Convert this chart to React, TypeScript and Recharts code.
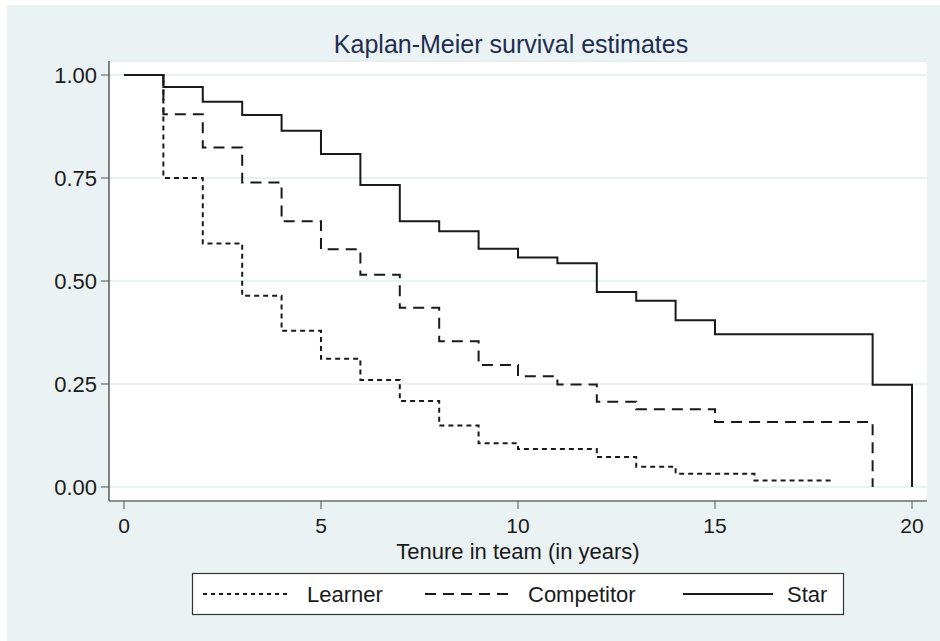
import React from 'react';
import { LineChart, Line, XAxis, YAxis, CartesianGrid } from 'recharts';

// Kaplan-Meier step estimates
const learnerT = [0, 1, 2, 3, 4, 5, 6, 7, 8, 9, 10, 12, 13, 14, 16, 18];
const learnerS = [1, 0.75, 0.591, 0.464, 0.379, 0.311, 0.26, 0.209, 0.149, 0.106, 0.092, 0.073, 0.049, 0.032, 0.016, 0.016];

const competitorT = [0, 1, 2, 3, 4, 5, 6, 7, 8, 9, 10, 11, 12, 13, 15, 19];
const competitorS = [1, 0.905, 0.824, 0.739, 0.645, 0.577, 0.515, 0.435, 0.354, 0.296, 0.269, 0.249, 0.207, 0.189, 0.158, 0];

const starT = [0, 1, 2, 3, 4, 5, 6, 7, 8, 9, 10, 11, 12, 13, 14, 15, 19, 20];
const starS = [1, 0.971, 0.935, 0.903, 0.865, 0.808, 0.733, 0.645, 0.621, 0.578, 0.557, 0.543, 0.473, 0.452, 0.405, 0.371, 0.248, 0];

const xTicks = [0, 5, 10, 15, 20];
const yTicks = [0, 0.25, 0.5, 0.75, 1];

const toRows = (t: number[], s: number[]) => t.map((v, i) => ({ t: v, s: s[i] }));

const FONT = '"Liberation Sans", Arial, sans-serif';
const BG = '#EAF2F3';
const INK = '#1a1a1a';

export default function App() {
  const learner = toRows(learnerT, learnerS);
  const competitor = toRows(competitorT, competitorS);
  const star = toRows(starT, starS);

  return (
    <div style={{ position: 'absolute', left: 0, top: 0, width: 940, height: 641, background: '#fff', fontFamily: FONT }}>
      <div style={{ position: 'absolute', left: 7, top: 5, width: 933, height: 636, background: BG }} />
      <div style={{ position: 'absolute', left: 0, top: 0 }}>
        <LineChart width={940} height={641} margin={{ top: 61, right: 13, bottom: 106, left: 29 }}>
          <CartesianGrid vertical={false} stroke="#E3ECEE" strokeWidth={1.5} fill="#fff" />
          <XAxis
            type="number"
            dataKey="t"
            domain={[-0.38, 20.38]}
            ticks={xTicks}
            allowDataOverflow
            height={34}
            tickSize={8}
            tickMargin={9}
            axisLine={{ stroke: '#333', strokeWidth: 1.2 }}
            tickLine={{ stroke: '#555' }}
            tick={{ fill: INK, fontSize: 21, fontFamily: FONT }}
            label={{ value: 'Tenure in team (in years)', position: 'bottom', offset: 8, fill: INK, fontSize: 22, fontFamily: FONT }}
          />
          <YAxis
            type="number"
            domain={[-0.034, 1.034]}
            ticks={yTicks}
            allowDataOverflow
            width={80}
            tickSize={8}
            tickMargin={4}
            tickFormatter={(v: number) => v.toFixed(2)}
            axisLine={{ stroke: '#333', strokeWidth: 1.2 }}
            tickLine={{ stroke: '#555' }}
            tick={{ fill: INK, fontSize: 22, fontFamily: FONT }}
          />
          <Line data={learner} dataKey="s" type="stepAfter" stroke={INK} strokeWidth={2} strokeDasharray="5 4" dot={false} isAnimationActive={false} />
          <Line data={competitor} dataKey="s" type="stepAfter" stroke={INK} strokeWidth={2} strokeDasharray="11 7" dot={false} isAnimationActive={false} />
          <Line data={star} dataKey="s" type="stepAfter" stroke={INK} strokeWidth={2} dot={false} isAnimationActive={false} />
        </LineChart>
      </div>
      <svg width={940} height={641} style={{ position: 'absolute', left: 0, top: 0, pointerEvents: 'none' }}>
        <text x={511} y={53} textAnchor="middle" fontSize={25} fill="#1E2D50" fontFamily={FONT}>
          Kaplan-Meier survival estimates
        </text>
        <rect x={192.5} y={573.5} width={651} height={41} fill="#fff" stroke="#333" strokeWidth={1.2} />
        <line x1={203} x2={289} y1={594} y2={594} stroke={INK} strokeWidth={2} strokeDasharray="4 4" />
        <text x={307} y={602} fontSize={22} fill={INK} fontFamily={FONT}>Learner</text>
        <line x1={425} x2={510} y1={594} y2={594} stroke={INK} strokeWidth={2} strokeDasharray="11 7" />
        <text x={528} y={602} fontSize={22} fill={INK} fontFamily={FONT}>Competitor</text>
        <line x1={683} x2={773} y1={594} y2={594} stroke={INK} strokeWidth={2} />
        <text x={787} y={602} fontSize={22} fill={INK} fontFamily={FONT}>Star</text>
      </svg>
    </div>
  );
}
